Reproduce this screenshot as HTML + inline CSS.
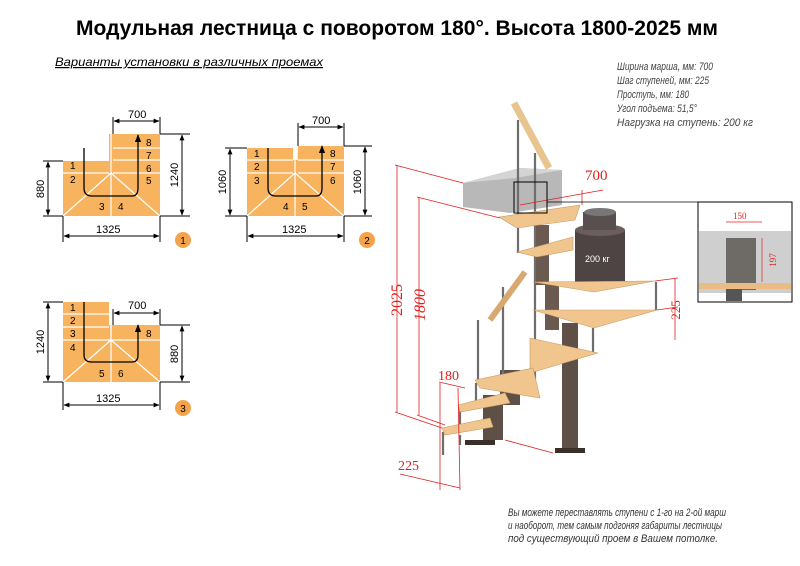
<!DOCTYPE html>
<html><head><meta charset="utf-8"><style>
body{margin:0;background:#fff;}
svg{display:block;font-family:"Liberation Sans",sans-serif;}
.it{font-style:italic;font-family:"Liberation Sans Narrow","Liberation Sans",sans-serif;}
</style></head><body>
<svg width="800" height="566" viewBox="0 0 800 566" xmlns="http://www.w3.org/2000/svg">
<defs>
<marker id="a" viewBox="0 0 10 10" refX="9" refY="5" markerWidth="6" markerHeight="6" orient="auto-start-reverse"><path d="M0,1 L10,5 L0,9z" fill="#000"/></marker>
</defs>
<text x="76" y="35" font-size="21" font-weight="bold" textLength="642" lengthAdjust="spacingAndGlyphs">Модульная лестница с поворотом 180°. Высота 1800-2025 мм</text>
<text x="55" y="66" font-size="12" class="it" text-decoration="underline" textLength="268" lengthAdjust="spacingAndGlyphs">Варианты установки в различных проемах</text>
<g class="it" font-size="11" fill="#444">
<text x="617" y="70" textLength="96" lengthAdjust="spacingAndGlyphs">Ширина марша, мм: 700</text>
<text x="617" y="84" textLength="92" lengthAdjust="spacingAndGlyphs">Шаг ступеней, мм: 225</text>
<text x="617" y="98" textLength="72" lengthAdjust="spacingAndGlyphs">Проступь, мм: 180</text>
<text x="617" y="112" textLength="80" lengthAdjust="spacingAndGlyphs">Угол подъема: 51,5°</text>
<text x="617" y="126" textLength="136" lengthAdjust="spacingAndGlyphs">Нагрузка на ступень: 200 кг</text>
</g>
<g class="it" font-size="11" fill="#333">
<text x="508" y="516" textLength="218" lengthAdjust="spacingAndGlyphs">Вы можете переставлять ступени с 1-го на 2-ой марш</text>
<text x="508" y="529" textLength="214" lengthAdjust="spacingAndGlyphs">и наоборот, тем самым подгоняя габариты лестницы</text>
<text x="508" y="542" textLength="210" lengthAdjust="spacingAndGlyphs">под существующий проем в Вашем потолке.</text>
</g>

<!-- Diagram 1 -->
<g>
<path d="M63,161 H109 V134 H160 V216 H63Z" fill="#f7b35e"/>
<g stroke="#fff" stroke-width="1.2">
<line x1="63" y1="173" x2="109" y2="173"/><line x1="113" y1="148" x2="160" y2="148"/><line x1="113" y1="160" x2="160" y2="160"/><line x1="113" y1="173" x2="160" y2="173"/>
<line x1="111" y1="134" x2="111" y2="216"/><line x1="63" y1="216" x2="111" y2="173"/><line x1="160" y1="216" x2="111" y2="173"/>
</g>
<path d="M84,148 V188 Q84,196 92,196 H132 Q138,196 138,188 V135" fill="none" stroke="#000" stroke-width="1.3" marker-end="url(#a)"/>
<g font-size="10"><text x="70" y="169">1</text><text x="70" y="183">2</text><text x="99" y="210">3</text><text x="118" y="210">4</text><text x="146" y="184">5</text><text x="146" y="172">6</text><text x="146" y="159">7</text><text x="146" y="146">8</text></g>
<g stroke="#000" stroke-width="1" fill="none">
<path d="M43,161 H63 M43,216 H63 M160,134 H190 M160,216 H190 M63,216 V242 M160,216 V242 M113,134 V117 M160,134 V117"/>
<line x1="48" y1="162" x2="48" y2="215" marker-start="url(#a)" marker-end="url(#a)"/>
<line x1="182" y1="135" x2="182" y2="215" marker-start="url(#a)" marker-end="url(#a)"/>
<line x1="64" y1="236" x2="159" y2="236" marker-start="url(#a)" marker-end="url(#a)"/>
<line x1="114" y1="121" x2="159" y2="121" marker-start="url(#a)" marker-end="url(#a)"/>
</g>
<text x="128" y="118" font-size="11">700</text>
<text x="96" y="233" font-size="11">1325</text>
<text transform="translate(44,189) rotate(-90)" font-size="11" text-anchor="middle">880</text>
<text transform="translate(178,175) rotate(-90)" font-size="11" text-anchor="middle">1240</text>
<circle cx="183" cy="240" r="8" fill="#f5a34a"/><text x="183" y="244" font-size="10" text-anchor="middle">1</text>
</g>

<!-- Diagram 2 -->
<g>
<path d="M247,148 H293 V216 H247Z M298,146 H344 V216 H296Z" fill="#f7b35e"/>
<rect x="247" y="160" width="97" height="56" fill="#f7b35e"/>
<g stroke="#fff" stroke-width="1.2">
<line x1="247" y1="160" x2="293" y2="160"/><line x1="247" y1="173" x2="293" y2="173"/><line x1="298" y1="160" x2="344" y2="160"/><line x1="298" y1="173" x2="344" y2="173"/>
<line x1="295" y1="146" x2="295" y2="216"/><line x1="247" y1="216" x2="295" y2="173"/><line x1="344" y1="216" x2="295" y2="173"/>
</g>
<path d="M268,148 V188 Q268,196 276,196 H316 Q322,196 322,188 V146" fill="none" stroke="#000" stroke-width="1.3" marker-end="url(#a)"/>
<g font-size="10"><text x="254" y="157">1</text><text x="254" y="170">2</text><text x="254" y="184">3</text><text x="283" y="210">4</text><text x="302" y="210">5</text><text x="330" y="184">6</text><text x="330" y="170">7</text><text x="330" y="157">8</text></g>
<g stroke="#000" stroke-width="1" fill="none">
<path d="M225,148 H247 M225,216 H247 M344,146 H372 M344,216 H372 M247,216 V242 M344,216 V242 M298,146 V123 M344,146 V123"/>
<line x1="230" y1="149" x2="230" y2="215" marker-start="url(#a)" marker-end="url(#a)"/>
<line x1="365" y1="147" x2="365" y2="215" marker-start="url(#a)" marker-end="url(#a)"/>
<line x1="248" y1="236" x2="343" y2="236" marker-start="url(#a)" marker-end="url(#a)"/>
<line x1="299" y1="127" x2="343" y2="127" marker-start="url(#a)" marker-end="url(#a)"/>
</g>
<text x="312" y="124" font-size="11">700</text>
<text x="282" y="233" font-size="11">1325</text>
<text transform="translate(226,182) rotate(-90)" font-size="11" text-anchor="middle">1060</text>
<text transform="translate(361,182) rotate(-90)" font-size="11" text-anchor="middle">1060</text>
<circle cx="367" cy="240" r="8" fill="#f5a34a"/><text x="367" y="244" font-size="10" text-anchor="middle">2</text>
</g>

<!-- Diagram 3 -->
<g>
<path d="M63,302 H109 V325 H160 V382 H63Z" fill="#f7b35e"/>
<g stroke="#fff" stroke-width="1.2">
<line x1="63" y1="314" x2="109" y2="314"/><line x1="63" y1="327" x2="109" y2="327"/><line x1="63" y1="340" x2="160" y2="340"/>
<line x1="111" y1="325" x2="111" y2="382"/><line x1="111" y1="302" x2="111" y2="340"/><line x1="63" y1="382" x2="111" y2="340"/><line x1="160" y1="382" x2="111" y2="340"/>
</g>
<line x1="111" y1="302" x2="111" y2="325" stroke="#fff" stroke-width="4"/>
<path d="M84,302 V355 Q84,362 92,362 H132 Q138,362 138,355 V325" fill="none" stroke="#000" stroke-width="1.3" marker-end="url(#a)"/>
<g font-size="10"><text x="70" y="311">1</text><text x="70" y="324">2</text><text x="70" y="337">3</text><text x="70" y="351">4</text><text x="99" y="377">5</text><text x="118" y="377">6</text><text x="146" y="337">8</text></g>
<g stroke="#000" stroke-width="1" fill="none">
<path d="M43,302 H63 M43,382 H63 M160,325 H190 M160,382 H190 M63,382 V410 M160,382 V410 M113,325 V309 M160,325 V309"/>
<line x1="48" y1="303" x2="48" y2="381" marker-start="url(#a)" marker-end="url(#a)"/>
<line x1="182" y1="326" x2="182" y2="381" marker-start="url(#a)" marker-end="url(#a)"/>
<line x1="64" y1="405" x2="159" y2="405" marker-start="url(#a)" marker-end="url(#a)"/>
<line x1="114" y1="313" x2="159" y2="313" marker-start="url(#a)" marker-end="url(#a)"/>
</g>
<text x="128" y="309" font-size="11">700</text>
<text x="96" y="402" font-size="11">1325</text>
<text transform="translate(44,342) rotate(-90)" font-size="11" text-anchor="middle">1240</text>
<text transform="translate(178,354) rotate(-90)" font-size="11" text-anchor="middle">880</text>
<circle cx="183" cy="408" r="8" fill="#f5a34a"/><text x="183" y="412" font-size="10" text-anchor="middle">3</text>
</g>

<!-- Stair -->
<g>
<path d="M463,183 L520,168 L562,170 L562,205 L510,213 L463,207Z" fill="#b8b8b8"/>
<path d="M463,183 L520,168 L562,170 L515,178Z" fill="#d4d4d4"/>
<rect x="562" y="323" width="16" height="128" fill="#5e4f47"/>
<rect x="555" y="448" width="30" height="5" fill="#3a302b"/>
<rect x="535" y="225" width="14" height="60" fill="#6b5a50"/>
<rect x="545" y="285" width="14" height="45" fill="#6b5a50"/>
<rect x="483" y="395" width="20" height="45" fill="#5e4f47"/>
<rect x="465" y="440" width="30" height="5" fill="#3a302b"/>
<rect x="500" y="370" width="20" height="35" fill="#5e4f47"/>
<rect x="575" y="230" width="50" height="52" fill="#4e4444"/>
<ellipse cx="600" cy="230" rx="25" ry="6" fill="#6a5e5e"/>
<rect x="583" y="212" width="33" height="18" fill="#5a4f4f"/>
<ellipse cx="600" cy="212" rx="16" ry="4" fill="#777"/>
<ellipse cx="600" cy="282" rx="25" ry="5" fill="#4e4444"/>
<text x="585" y="262" font-size="9" fill="#fff">200 кг</text>
<g stroke="#6e6e6e" stroke-width="2.2">
<line x1="518" y1="120" x2="518" y2="253"/><line x1="535" y1="153" x2="535" y2="380"/>
<line x1="656" y1="282" x2="656" y2="310"/><line x1="593" y1="328" x2="593" y2="352"/>
<line x1="503" y1="287" x2="503" y2="385"/><line x1="478" y1="320" x2="478" y2="383"/>
<line x1="476" y1="383" x2="476" y2="405"/><line x1="460" y1="405" x2="460" y2="428"/>
<line x1="443" y1="432" x2="443" y2="455"/><line x1="460" y1="435" x2="460" y2="445"/>
</g>
<line x1="514" y1="103" x2="549" y2="168" stroke="#e8c48e" stroke-width="7"/>
<line x1="525" y1="272" x2="490" y2="320" stroke="#d9a871" stroke-width="6"/>
<g fill="#f0c58e" stroke="#c89a65" stroke-width="0.6">
<path d="M499,217 L580,205 L575,220 L517,228Z"/>
<path d="M517,252 L573,237 L573,250 L537,257Z"/>
<path d="M533,282 L655,281 L594,292Z"/>
<path d="M533,310 L657,310 L594,328Z"/>
<path d="M530,338 L598,353 L530,373Z"/>
<path d="M475,380 L533,368 L540,398 L480,388Z"/>
<path d="M458,405 L505,393 L510,403 L460,412Z"/>
<path d="M442,428 L490,418 L493,427 L445,435Z"/>
</g>
<g stroke="#e02020" stroke-width="0.8" fill="none">
<line x1="397" y1="165" x2="397" y2="412"/><line x1="419" y1="197" x2="419" y2="415"/>
<line x1="395" y1="165" x2="463" y2="183"/><line x1="417" y1="197" x2="500" y2="218"/>
<line x1="395" y1="412" x2="442" y2="428"/><line x1="417" y1="415" x2="445" y2="425"/>
<line x1="675" y1="278" x2="675" y2="340"/><line x1="655" y1="281" x2="678" y2="278"/><line x1="657" y1="310" x2="678" y2="307"/>
<line x1="520" y1="205" x2="603" y2="190"/><line x1="582" y1="205" x2="582" y2="190"/>
<line x1="439" y1="382" x2="465" y2="388"/><line x1="440" y1="383" x2="440" y2="490"/><line x1="458" y1="388" x2="460" y2="490"/>
<line x1="400" y1="474" x2="460" y2="488"/>
<line x1="505" y1="440" x2="553" y2="453"/>
</g>
<g fill="#e02020" font-family="Liberation Serif,serif" font-size="16">
<text transform="translate(402,300) rotate(-90)" text-anchor="middle">2025</text>
<text transform="translate(425,305) rotate(-90)" text-anchor="middle" font-style="italic">1800</text>
<text transform="translate(680,310) rotate(-90)" text-anchor="middle" font-size="13">225</text>
<text x="585" y="180" font-size="15">700</text>
<text x="438" y="380" font-size="14">180</text>
<text x="398" y="470" font-size="14">225</text>
</g>
<rect x="514" y="182" width="33" height="31" fill="none" stroke="#000" stroke-width="1"/>
<line x1="547" y1="202" x2="698" y2="202" stroke="#000" stroke-width="0.8"/>
<rect x="698" y="202" width="94" height="100" fill="#fff" stroke="#000" stroke-width="1"/>
<rect x="699" y="231" width="92" height="62" fill="#cfcfcf"/>
<rect x="726" y="238" width="30" height="52" fill="#6e6a66"/>
<rect x="699" y="283" width="92" height="6" fill="#e8bc84"/>
<rect x="726" y="289" width="16" height="12" fill="#555"/>
<line x1="726" y1="222" x2="762" y2="222" stroke="#e02020" stroke-width="0.7"/>
<line x1="762" y1="238" x2="762" y2="282" stroke="#e02020" stroke-width="0.7"/>
<text x="733" y="219" font-size="9" fill="#e02020" font-family="Liberation Serif,serif">150</text>
<text transform="translate(776,260) rotate(-90)" font-size="9" fill="#e02020" text-anchor="middle" font-family="Liberation Serif,serif">197</text>
</g>
</svg>
</body></html>
